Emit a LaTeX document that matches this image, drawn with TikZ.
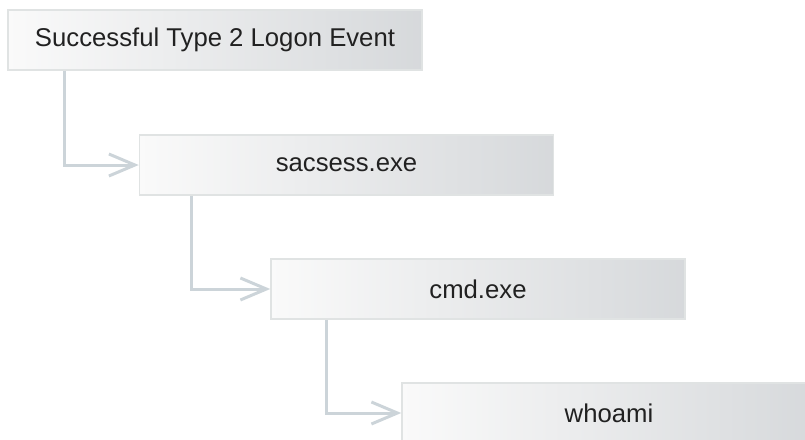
\documentclass[tikz,border=0pt]{standalone}
\usepackage{fontspec}
\setmainfont{Liberation Sans}
\usetikzlibrary{arrows.meta}
\definecolor{linkgray}{rgb}{0.80,0.83,0.85}
\definecolor{edgegray}{rgb}{0.88,0.89,0.89}
\definecolor{shadeleft}{rgb}{0.98,0.98,0.98}
\definecolor{shademid}{rgb}{0.94,0.94,0.94}
\definecolor{shaderight}{rgb}{0.84,0.85,0.86}
\definecolor{inkgray}{rgb}{0.13,0.13,0.13}
\tikzset{
  evbox/.style={draw=edgegray,line width=1.5pt,left color=shadeleft,middle color=shademid,right color=shaderight,
    minimum width=414pt,minimum height=60pt,inner sep=0pt,text=inkgray,font=\fontsize{25.7}{30}\selectfont},
  link/.style={draw=linkgray,line width=3pt,-{Straight Barb[length=26pt,width=22pt,line width=3pt]}}
}

\begin{document}
\begin{tikzpicture}[x=1pt,y=-1pt]
\useasboundingbox (0,0) rectangle (805,439);
\clip (0,0) rectangle (805,439);
\node[evbox] (logon) at (215,40) {Successful Type 2 Logon Event};
\node[evbox] (sacsess) at (346.5,165) {sacsess.exe};
\node[evbox] (cmd) at (478,289) {cmd.exe};
\node[evbox] (whoami) at (609,413) {whoami};
\draw[link] ([xshift=57pt]logon.south west) |- (sacsess.west);
\draw[link] ([xshift=53pt]sacsess.south west) |- (cmd.west);
\draw[link] ([xshift=56pt]cmd.south west) |- (whoami.west);
\end{tikzpicture}
\end{document}
